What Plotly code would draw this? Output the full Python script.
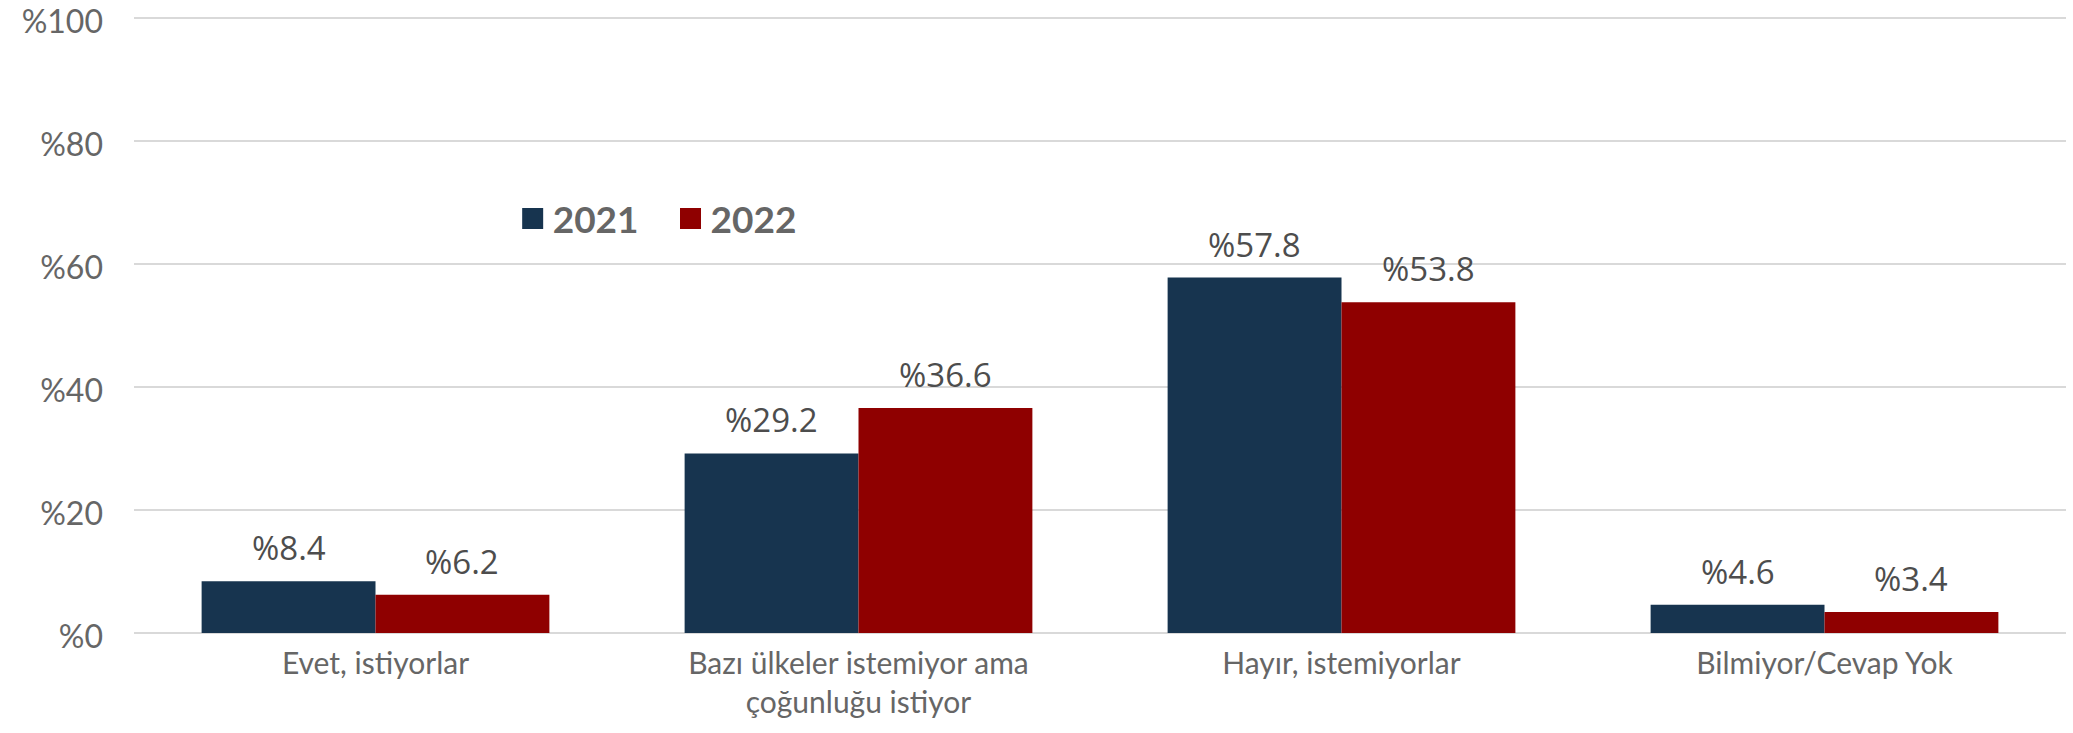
import plotly.graph_objects as go

# Survey answers and shares (%) for two survey waves
categories = [
    "Evet, istiyorlar",
    "Bazı ülkeler istemiyor ama<br>çoğunluğu istiyor",
    "Hayır, istemiyorlar",
    "Bilmiyor/Cevap Yok",
]
values_2021 = [8.4, 29.2, 57.8, 4.6]
values_2022 = [6.2, 36.6, 53.8, 3.4]
series_names = ["2021", "2022"]
y_ticks = [0, 20, 40, 60, 80, 100]
y_tick_labels = ["%0", "%20", "%40", "%60", "%80", "%100"]

colors = ["#17344F", "#8F0000"]
bargap = 0.28
bar_w = (1 - bargap) / 2
x_pos = list(range(len(categories)))

fig = go.Figure()
for name, vals, col in zip(series_names, [values_2021, values_2022], colors):
    fig.add_trace(go.Bar(
        x=x_pos, y=vals, name=name, marker=dict(color=col, line=dict(width=0)),
        showlegend=False, hoverinfo="skip",
    ))
    # legend entries with larger square swatches
    fig.add_trace(go.Scatter(
        x=[None], y=[None], mode="markers", name=name + "\u00a0\u00a0\u00a0",
        marker=dict(symbol="square", size=16, color=col,
                    line=dict(color=col, width=5)),
    ))

# value labels above each bar
for k, vals in enumerate([values_2021, values_2022]):
    off = (k - 0.5) * bar_w
    for i, v in enumerate(vals):
        fig.add_annotation(
            x=x_pos[i] + off, y=v, text=f"%{v:.1f}", showarrow=False,
            yanchor="bottom", yshift=9,
            font=dict(family="Open Sans", size=33, color="#4D4D4D"),
        )

fig.update_layout(
    width=2073, height=733,
    margin=dict(l=134, r=7, t=15, b=100, autoexpand=False),
    paper_bgcolor="white", plot_bgcolor="white",
    barmode="group", bargap=bargap, bargroupgap=0,
    font=dict(family="Lato", color="#666666"),
    legend=dict(
        orientation="h", x=0.196, y=0.67, xanchor="left", yanchor="middle",
        font=dict(family="Lato", size=37, color="#666666", weight="bold"),
        bgcolor="rgba(0,0,0,0)", itemwidth=30,
    ),
    xaxis=dict(
        range=[-0.5, len(categories) - 0.5],
        tickvals=x_pos, ticktext=categories, automargin=False,
        showgrid=False, zeroline=False, showline=False, ticks="",
        tickfont=dict(family="Lato", size=30, color="#666666"),
        ticklabelstandoff=10,
    ),
    yaxis=dict(
        range=[0, 100.5], tickvals=y_ticks, ticktext=y_tick_labels,
        tickmode="array", ticklabeloverflow="allow", automargin=False,
        showgrid=True, gridcolor="#D9D9D9", gridwidth=2,
        zeroline=True, zerolinecolor="#D9D9D9", zerolinewidth=2,
        showline=False, ticks="",
        tickfont=dict(family="Lato", size=32, color="#666666"),
        ticklabelstandoff=30, ticklabelshift=4,
    ),
)

fig.write_html("out.html")
